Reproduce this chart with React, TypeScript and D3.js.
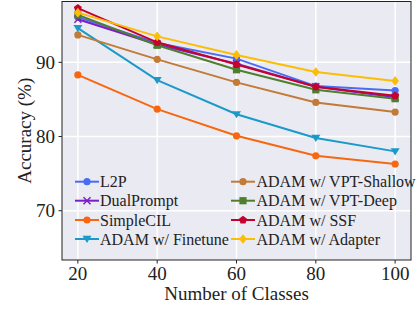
import React from "react";
import * as d3 from "d3";

const classes = [20, 40, 60, 80, 100];
const seriesNames = [
  "L2P",
  "DualPrompt",
  "SimpleCIL",
  "ADAM w/ Finetune",
  "ADAM w/ VPT-Shallow",
  "ADAM w/ VPT-Deep",
  "ADAM w/ SSF",
  "ADAM w/ Adapter",
];
const l2p = [96.1, 92.6, 90.5, 86.8, 86.2];
const dualPrompt = [95.8, 92.4, 89.8, 86.7, 85.3];
const simpleCIL = [88.3, 83.7, 80.1, 77.4, 76.3];
const finetune = [94.6, 87.6, 83.0, 79.8, 78.0];
const vptShallow = [93.7, 90.4, 87.3, 84.6, 83.3];
const vptDeep = [96.4, 92.3, 89.0, 86.3, 85.1];
const ssf = [97.3, 92.7, 89.7, 86.7, 85.5];
const adapter = [96.7, 93.5, 91.0, 88.7, 87.5];
const yTicks = [70, 80, 90];
const xTicks = [20, 40, 60, 80, 100];

const allValues = [l2p, dualPrompt, simpleCIL, finetune, vptShallow, vptDeep, ssf, adapter];
const colors = ["#4a6cf5", "#7b1fc4", "#f8670f", "#1a9ac9", "#c27a37", "#4e7f2f", "#c4022d", "#fbbd06"];
const markers = ["circle", "x", "circle", "tri", "circle", "square", "pentagon", "diamond"];

function Marker({ type, x, y, color }: { type: string; x: number; y: number; color: string }) {
  if (type === "circle") return <circle cx={x} cy={y} r={3.6} fill={color} />;
  if (type === "square") return <rect x={x - 3.6} y={y - 3.6} width={7.2} height={7.2} fill={color} />;
  if (type === "diamond") {
    const s = 4.8;
    return <path d={`M${x},${y - s}L${x + s * 0.8},${y}L${x},${y + s}L${x - s * 0.8},${y}Z`} fill={color} />;
  }
  if (type === "tri") {
    const s = 4.5;
    return <path d={`M${x - s},${y - s * 0.7}L${x + s},${y - s * 0.7}L${x},${y + s * 0.9}Z`} fill={color} />;
  }
  if (type === "pentagon") {
    const sym = d3.symbol().type(d3.symbolStar).size(0);
    void sym;
    const pts = d3.range(5).map((i) => {
      const a = -Math.PI / 2 + (i * 2 * Math.PI) / 5;
      return `${x + 4.2 * Math.cos(a)},${y + 4.2 * Math.sin(a)}`;
    });
    return <path d={`M${pts.join("L")}Z`} fill={color} />;
  }
  if (type === "x") {
    const s = 3.5;
    return (
      <path d={`M${x - s},${y - s}L${x + s},${y + s}M${x - s},${y + s}L${x + s},${y - s}`} stroke={color} strokeWidth={1.5} />
    );
  }
  return null;
}

export default function App() {
  const W = 417;
  const H = 310;
  const left = 62;
  const right = 411;
  const top = 1.5;
  const bottom = 260;
  const x = d3.scaleLinear().domain([16, 104]).range([left, right]);
  const y = d3.scaleLinear().domain([63.36, 98.2]).range([bottom, top]);
  const line = d3
    .line<number>()
    .x((_, i) => x(classes[i]))
    .y((d) => y(d));
  const font = "'Liberation Serif', 'Times New Roman', serif";

  const legendRows = [181.7, 200.7, 220, 239];
  return (
    <svg width={W} height={H} style={{ position: "absolute", left: 0, top: 0 }}>
      <rect x={left} y={top} width={right - left} height={bottom - top} fill="#eaeaf2" />
      {xTicks.map((t) => (
        <line key={"gx" + t} x1={x(t)} x2={x(t)} y1={top} y2={bottom} stroke="#fff" strokeWidth={1.5} />
      ))}
      {yTicks.map((t) => (
        <line key={"gy" + t} x1={left} x2={right} y1={y(t)} y2={y(t)} stroke="#fff" strokeWidth={1.5} />
      ))}
      {allValues.map((vals, i) => (
        <g key={seriesNames[i]}>
          <path d={line(vals) || ""} fill="none" stroke={colors[i]} strokeWidth={2} />
          {vals.map((v, j) => (
            <Marker key={j} type={markers[i]} x={x(classes[j])} y={y(v)} color={colors[i]} />
          ))}
        </g>
      ))}
      <rect x={left} y={top} width={right - left} height={bottom - top} fill="none" stroke="#222" strokeWidth={1} />
      {yTicks.map((t) => (
        <g key={"ty" + t}>
          <line x1={left - 3.5} x2={left} y1={y(t)} y2={y(t)} stroke="#222" strokeWidth={1} />
          <text x={55} y={y(t)} dy="0.35em" textAnchor="end" fontFamily={font} fontSize={19} fill="#222">
            {t}
          </text>
        </g>
      ))}
      {xTicks.map((t) => (
        <g key={"tx" + t}>
          <line x1={x(t)} x2={x(t)} y1={bottom} y2={bottom + 3.5} stroke="#222" strokeWidth={1} />
          <text x={x(t)} y={280} textAnchor="middle" fontFamily={font} fontSize={19} fill="#222">
            {t}
          </text>
        </g>
      ))}
      <text x={(left + right) / 2} y={299.5} textAnchor="middle" fontFamily={font} fontSize={19} fill="#222">
        Number of Classes
      </text>
      <text
        transform={`translate(31,${(top + bottom) / 2}) rotate(-90)`}
        textAnchor="middle"
        fontFamily={font}
        fontSize={19}
        fill="#222"
      >
        Accuracy (%)
      </text>
      {seriesNames.map((name, i) => {
        const col = Math.floor(i / 4);
        const row = i % 4;
        const hx = col === 0 ? 75 : 231;
        const tx = col === 0 ? 100 : 256.5;
        const ry = legendRows[row];
        return (
          <g key={"lg" + name}>
            <line x1={hx} x2={hx + 24} y1={ry} y2={ry} stroke={colors[i]} strokeWidth={2} />
            <Marker type={markers[i]} x={hx + 12} y={ry} color={colors[i]} />
            <text x={tx} y={ry} dy="0.35em" fontFamily={font} fontSize={16} fill="#222">
              {name}
            </text>
          </g>
        );
      })}
    </svg>
  );
}
